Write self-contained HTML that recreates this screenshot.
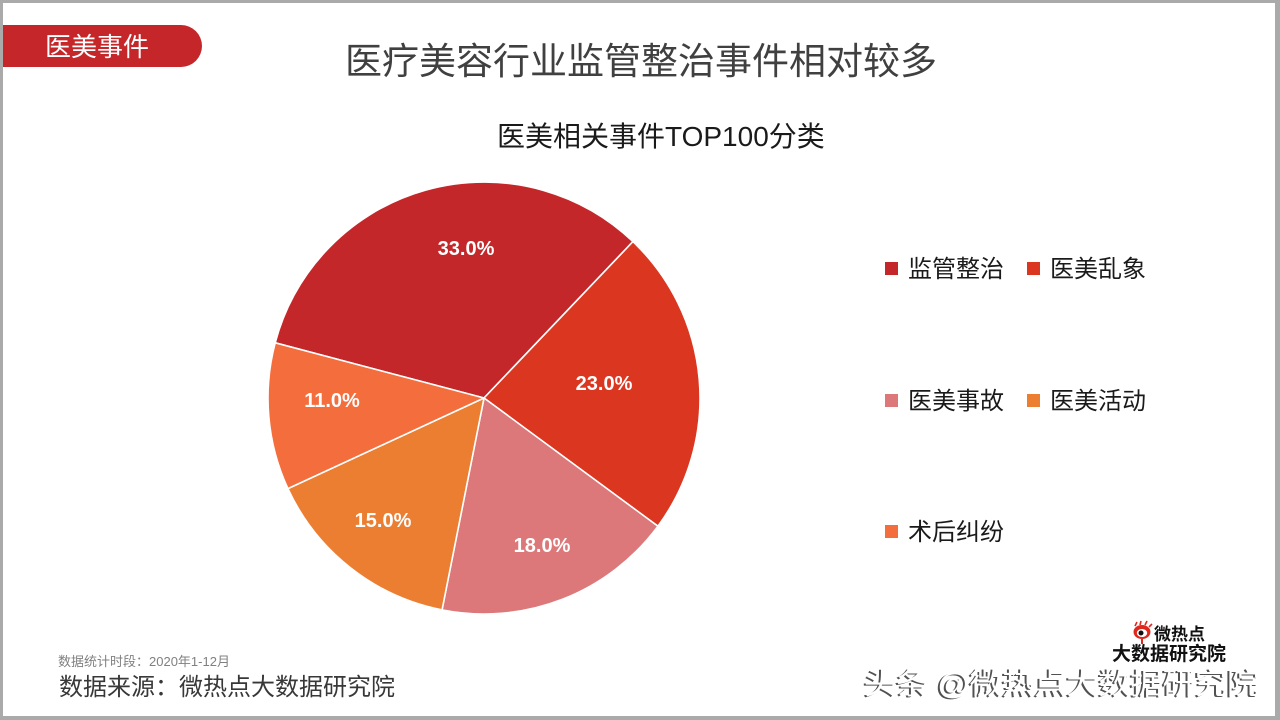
<!DOCTYPE html>
<html>
<head>
<meta charset="utf-8">
<style>
html,body{margin:0;padding:0;background:#fff;}
body{width:1280px;height:720px;overflow:hidden;}
svg{display:block;}
text{font-family:"Liberation Sans","Noto Sans CJK SC",sans-serif;}
</style>
</head>
<body>
<svg width="1280" height="720" viewBox="0 0 1280 720" xmlns="http://www.w3.org/2000/svg">
  <!-- frame -->
  <rect x="0" y="0" width="1280" height="720" fill="#aaaaaa"/>
  <rect x="3" y="3" width="1272" height="713" fill="#ffffff"/>

  <!-- badge -->
  <path d="M3,25 H181 A21,21 0 0 1 181,67 H3 Z" fill="#C4262A"/>
  <text x="97" y="56" font-size="26" fill="#ffffff" text-anchor="middle">医美事件</text>

  <!-- titles -->
  <text x="641" y="74" font-size="37" fill="#404040" text-anchor="middle">医疗美容行业监管整治事件相对较多</text>
  <text x="497" y="146" font-size="28" fill="#1a1a1a">医美相关事件TOP100分类</text>

  <!-- pie -->
  <g stroke="#ffffff" stroke-width="1.6" stroke-linejoin="round">
    <path d="M484,398 L275.2,342.8 A216,216 0 0 1 632.95,241.6 Z" fill="#C4272A"/>
    <path d="M484,398 L632.95,241.6 A216,216 0 0 1 657.9,526.2 Z" fill="#DB3620"/>
    <path d="M484,398 L657.9,526.2 A216,216 0 0 1 442.05,609.9 Z" fill="#DC7879"/>
    <path d="M484,398 L442.05,609.9 A216,216 0 0 1 287.9,488.6 Z" fill="#EB7E31"/>
    <path d="M484,398 L287.9,488.6 A216,216 0 0 1 275.2,342.8 Z" fill="#F46D3D"/>
  </g>
  <g font-size="20" font-weight="bold" fill="#ffffff" text-anchor="middle">
    <text x="466" y="255">33.0%</text>
    <text x="604" y="390">23.0%</text>
    <text x="542" y="552">18.0%</text>
    <text x="383" y="527">15.0%</text>
    <text x="332" y="407">11.0%</text>
  </g>

  <!-- legend -->
  <rect x="885" y="262" width="13" height="13" fill="#C4272A"/>
  <text x="908" y="277" font-size="24" fill="#1a1a1a">监管整治</text>
  <rect x="1027" y="262" width="13" height="13" fill="#DB3620"/>
  <text x="1050" y="277" font-size="24" fill="#1a1a1a">医美乱象</text>

  <rect x="885" y="394" width="13" height="13" fill="#DC7879"/>
  <text x="908" y="409" font-size="24" fill="#1a1a1a">医美事故</text>
  <rect x="1027" y="394" width="13" height="13" fill="#EB7E31"/>
  <text x="1050" y="409" font-size="24" fill="#1a1a1a">医美活动</text>

  <rect x="885" y="525" width="13" height="13" fill="#F46D3D"/>
  <text x="908" y="540" font-size="24" fill="#1a1a1a">术后纠纷</text>

  <!-- footer left -->
  <text x="58" y="666" font-size="13" fill="#808080">数据统计时段：2020年1-12月</text>
  <text x="59" y="695" font-size="24" fill="#383838">数据来源：微热点大数据研究院</text>

  <!-- logo -->
  <g>
    <ellipse cx="1142" cy="632" rx="8.5" ry="7" fill="#E0271E"/>
    <ellipse cx="1142" cy="633" rx="5.2" ry="4" fill="#ffffff"/>
    <circle cx="1141" cy="633" r="2.5" fill="#111"/>
    <path d="M1135,626 L1137,622 M1140,625 L1141,621 M1145,625 L1147,621 M1149,627 L1152,624" stroke="#E0271E" stroke-width="1.6"/>
    <rect x="1141" y="639" width="2" height="5" fill="#E0271E"/>
  </g>
  <text x="1154" y="640" font-size="17" font-weight="bold" fill="#111">微热点</text>
  <text x="1112" y="660" font-size="19" font-weight="bold" fill="#111">大数据研究院</text>

  <!-- watermark -->
  <text x="862" y="695" font-size="30" fill="#333" opacity="0.85" textLength="395" lengthAdjust="spacingAndGlyphs">头条 @微热点大数据研究院</text>
  <text x="864" y="694" font-size="30" fill="#ffffff" textLength="395" lengthAdjust="spacingAndGlyphs">头条 @微热点大数据研究院</text>
</svg>
</body>
</html>
